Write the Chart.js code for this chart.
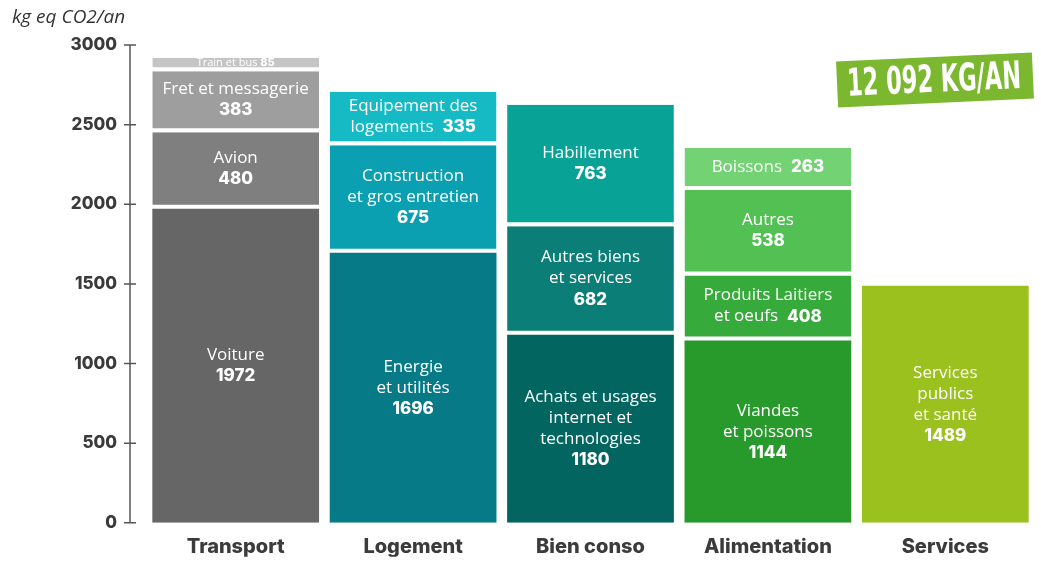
<!DOCTYPE html>
<html>
<head>
<meta charset="utf-8">
<script src="https://cdn.jsdelivr.net/npm/chart.js@4.4.0/dist/chart.umd.min.js"></script>
<style>
  html, body { margin: 0; padding: 0; background: #fff; }
  #wrap { width: 1041px; height: 563px; position: relative; }
</style>
</head>
<body>
<div id="wrap"><canvas id="co2Chart"></canvas></div>
<script>
const categories = ['Transport', 'Logement', 'Bien conso', 'Alimentation', 'Services'];
const yTicks = [0, 500, 1000, 1500, 2000, 2500, 3000];

// stack levels, from bottom to top
const level0Values = [1972, 1696, 1180, 1144, 1489];
const level1Values = [480, 675, 682, 408, null];
const level2Values = [383, 335, 763, 538, null];
const level3Values = [85, null, null, 263, null];

const level0Names = ['Voiture', 'Energie\net utilités', 'Achats et usages\ninternet et\ntechnologies', 'Viandes\net poissons', 'Services\npublics\net santé'];
const level1Names = ['Avion', 'Construction\net gros entretien', 'Autres biens\net services', 'Produits Laitiers\net oeufs', null];
const level2Names = ['Fret et messagerie', 'Equipement des\nlogements', 'Habillement', 'Autres', null];
const level3Names = ['Train et bus', null, null, 'Boissons', null];

// value written on the same line as the name
const level0Inline = [false, false, false, false, false];
const level1Inline = [false, false, false, true, false];
const level2Inline = [false, true, false, false, false];
const level3Inline = [true, false, false, true, false];

const level0Colors = ['#666666', '#067b87', '#03655f', '#279a2b', '#9bc11f'];
const level1Colors = ['#7f7f7f', '#0a9fb1', '#0b7f77', '#36aa3a', '#ffffff'];
const level2Colors = ['#9e9e9e', '#16bac4', '#09a297', '#52c053', '#ffffff'];
const level3Colors = ['#c5c5c5', '#ffffff', '#ffffff', '#73d274', '#ffffff'];

const totalLabel = '12 092 KG/AN';
const axisTitle = 'kg eq CO2/an';

const levels = [
  { values: level0Values, names: level0Names, inline: level0Inline, colors: level0Colors },
  { values: level1Values, names: level1Names, inline: level1Inline, colors: level1Colors },
  { values: level2Values, names: level2Names, inline: level2Inline, colors: level2Colors },
  { values: level3Values, names: level3Names, inline: level3Inline, colors: level3Colors }
];

const NAME_FONT = '"Open Sans", sans-serif';
const VALUE_FONT = 'Inter, "Open Sans", sans-serif';
const GAP = 4;

/**
 * Writes name + value inside each bar segment
 */
const segmentLabels = {
  id: 'segmentLabels',
  afterDatasetsDraw(chart) {
    const ctx = chart.ctx;
    ctx.save();
    ctx.fillStyle = '#ffffff';
    ctx.textBaseline = 'middle';
    levels.forEach((lvl, i) => {
      const meta = chart.getDatasetMeta(i);
      meta.data.forEach((bar, j) => {
        const v = lvl.values[j];
        if (v == null) return;
        const p = bar.getProps(['x', 'y', 'base'], true);
        const gap = i > 0 ? GAP : 0;
        const h = p.base - gap - p.y;
        const small = h < 30;
        const size = small ? 11 : 17;
        const lineH = small ? 14 : 21;
        const lines = lvl.names[j].split('\n');
        const nLines = lvl.inline[j] ? lines.length : lines.length + 1;
        const cy = (p.y + p.base - gap) / 2;
        let y = cy - (nLines - 1) * lineH / 2;
        const nameFont = size + 'px ' + NAME_FONT;
        const valFont = '800 ' + size + 'px ' + VALUE_FONT;
        lines.forEach((line, k) => {
          const last = k === lines.length - 1;
          if (last && lvl.inline[j]) {
            ctx.font = nameFont;
            const a = line + (small ? ' ' : '  ');
            const wa = ctx.measureText(a).width;
            ctx.font = valFont;
            const wb = ctx.measureText(String(v)).width;
            const x0 = p.x - (wa + wb) / 2;
            ctx.textAlign = 'left';
            ctx.font = nameFont;
            ctx.fillText(a, x0, y);
            ctx.font = valFont;
            ctx.fillText(String(v), x0 + wa, y);
          } else {
            ctx.textAlign = 'center';
            ctx.font = nameFont;
            ctx.fillText(line, p.x, y);
          }
          y += lineH;
        });
        if (!lvl.inline[j]) {
          ctx.textAlign = 'center';
          ctx.font = valFont;
          ctx.fillText(String(v), p.x, y);
        }
      });
    });
    ctx.restore();
  }
};

/**
 * Y axis line with crossing ticks, axis title and total badge
 */
const decorations = {
  id: 'decorations',
  afterDraw(chart) {
    const ctx = chart.ctx;
    const yScale = chart.scales.y;
    const ax = chart.chartArea.left - 17;
    ctx.save();
    ctx.strokeStyle = '#555555';
    ctx.lineWidth = 1.5;
    ctx.beginPath();
    ctx.moveTo(ax, yScale.getPixelForValue(3000));
    ctx.lineTo(ax, yScale.getPixelForValue(0));
    yTicks.forEach(t => {
      const ty = yScale.getPixelForValue(t);
      ctx.moveTo(ax - 6, ty);
      ctx.lineTo(ax + 6, ty);
    });
    ctx.stroke();

    // axis title
    ctx.fillStyle = '#333333';
    ctx.font = 'italic 19px "Open Sans", sans-serif';
    ctx.textAlign = 'left';
    ctx.textBaseline = 'middle';
    ctx.fillText(axisTitle, 12, 18);

    // total badge
    ctx.translate(934, 80);
    ctx.rotate(-2.6 * Math.PI / 180);
    ctx.fillStyle = '#7cb82f';
    ctx.fillRect(-97, -23, 196, 46);
    ctx.fillStyle = '#ffffff';
    ctx.font = 'bold 38px "Liberation Sans Narrow", "DejaVu Sans Condensed", sans-serif';
    ctx.textAlign = 'center';
    ctx.textBaseline = 'middle';
    ctx.fillText(totalLabel, 0, 2, 174);
    ctx.restore();
  }
};

const ctx = document.getElementById('co2Chart');

new Chart(ctx, {
  type: 'bar',
  data: {
    labels: categories,
    datasets: levels.map((lvl, i) => ({
      label: 'level ' + i,
      data: lvl.values,
      backgroundColor: lvl.colors,
      borderColor: '#ffffff',
      borderWidth: { top: 0, right: 0, bottom: i > 0 ? GAP : 0, left: 0 },
      borderSkipped: false,
      barPercentage: 0.94,
      categoryPercentage: 1
    }))
  },
  options: {
    responsive: true,
    maintainAspectRatio: false,
    animation: false,
    events: [],
    layout: {
      padding: { top: 45, right: 7, bottom: 0, left: 0 }
    },
    plugins: {
      legend: { display: false },
      title: { display: false },
      tooltip: { enabled: false }
    },
    scales: {
      x: {
        stacked: true,
        grid: { display: false, drawTicks: false },
        border: { display: false },
        ticks: {
          color: '#3b3b3b',
          padding: 12,
          font: { family: 'Inter', size: 20, weight: 800 }
        },
        afterFit(scale) { scale.height = 34; }
      },
      y: {
        stacked: true,
        min: 0,
        max: 3000,
        grid: { display: false, drawTicks: false },
        border: { display: false },
        ticks: {
          stepSize: 500,
          color: '#3a3a3a',
          padding: 30,
          font: { family: 'Inter', size: 17, weight: 800 },
          callback: value => String(value)
        },
        afterFit(scale) { scale.width = 147; }
      }
    }
  },
  plugins: [segmentLabels, decorations]
});
</script>
</body>
</html>
